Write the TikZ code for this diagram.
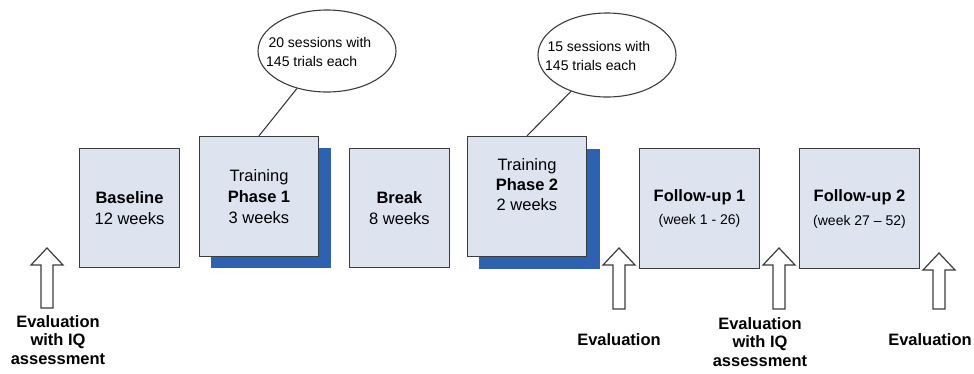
\documentclass[tikz,border=0pt]{standalone}
\usepackage{fontspec}
\setmainfont{Liberation Sans}
\usetikzlibrary{shapes.geometric}

\definecolor{boxfill}{RGB}{221,228,240}
\definecolor{boxline}{RGB}{60,60,60}
\definecolor{shadowblue}{RGB}{46,98,176}

\tikzset{
  phasebox/.style={draw=boxline, line width=1.3pt, fill=boxfill,
    inner sep=0pt, align=center, font=\fontsize{16.5}{21}\selectfont},
  shadowbox/.style={fill=shadowblue, draw=none, inner sep=0pt},
  bubble/.style={ellipse, draw=boxline, line width=1.1pt, fill=white, inner sep=0pt},
  bubbletext/.style={anchor=west, align=left, inner sep=0pt,
    font=\fontsize{14}{19}\selectfont},
  evallabel/.style={align=center, inner sep=0pt,
    font=\bfseries\fontsize{16.5}{18.5}\selectfont},
  tether/.style={draw=boxline, line width=1.1pt},
  pics/evalarrow/.style={code={
    \draw[draw=boxline, line width=1.2pt, fill=white, line join=miter]
      (0,0) -- (16,17) -- (6,17) -- (6,#1) -- (-6,#1) -- (-6,17) -- (-16,17) -- cycle;
  }}
}

\begin{document}
\begin{tikzpicture}[x=1pt, y=-1pt]
\useasboundingbox (0,0) rectangle (974,373);

% shadows behind the two training phases
\node[shadowbox, minimum width=120pt, minimum height=120pt] (s1) at (271,208) {};
\node[shadowbox, minimum width=121pt, minimum height=120pt] (s2) at (539.5,208.5) {};

% phase boxes
\node[phasebox, minimum width=100pt, minimum height=119pt] (base) at (129.5,208)
  {\textbf{Baseline}\\12 weeks};
\node[phasebox, minimum width=119pt, minimum height=120pt] (t1) at (259,196.5)
  {Training\\\textbf{Phase 1}\\3 weeks};
\node[phasebox, minimum width=100pt, minimum height=119pt] (brk) at (399.5,208)
  {\textbf{Break}\\8 weeks};
\node[phasebox, minimum width=119pt, minimum height=120pt] (t2) at (527,196.5) {};
\node[align=center, inner sep=0pt, font=\fontsize{16.5}{20}\selectfont] (t2txt) at (527,185)
  {Training\\\textbf{Phase 2}\\2 weeks};
\node[phasebox, minimum width=120pt, minimum height=120pt] (f1) at (699.5,208.5)
  {\textbf{Follow-up 1}\\[2pt]{\fontsize{14}{16}\selectfont (week 1 - 26)}};
\node[phasebox, minimum width=120pt, minimum height=120pt] (f2) at (859.5,208.5)
  {\textbf{Follow-up 2}\\[3pt]{\fontsize{14}{16}\selectfont (week 27 -- 52)}};

% session bubbles and their tethers
\node[bubble, minimum width=138pt, minimum height=82pt] (e1) at (327,51) {};
\node[bubble, minimum width=138pt, minimum height=84pt] (e2) at (607,55) {};
\draw[tether] (t1.north) -- (e1);
\draw[tether] (t2.north) -- (e2);
\node[bubbletext] (e1txt) at (266,52) {\,20 sessions with\\145 trials each};
\node[bubbletext] (e2txt) at (545,55.5) {\,15 sessions with\\145 trials each};

% evaluation time points
\pic at (47,248) {evalarrow=60};
\pic at (619,248) {evalarrow=61};
\pic at (779,248) {evalarrow=61};
\pic at (939,253) {evalarrow=56};

\node[evallabel, anchor=north] (ev1) at (58,315) {Evaluation\\with IQ\\assessment};
\node[evallabel] (ev2) at (619,340) {Evaluation};
\node[evallabel, anchor=north] (ev3) at (760,317) {Evaluation\\with IQ\\assessment};
\node[evallabel] (ev4) at (930,340) {Evaluation};
\end{tikzpicture}
\end{document}
